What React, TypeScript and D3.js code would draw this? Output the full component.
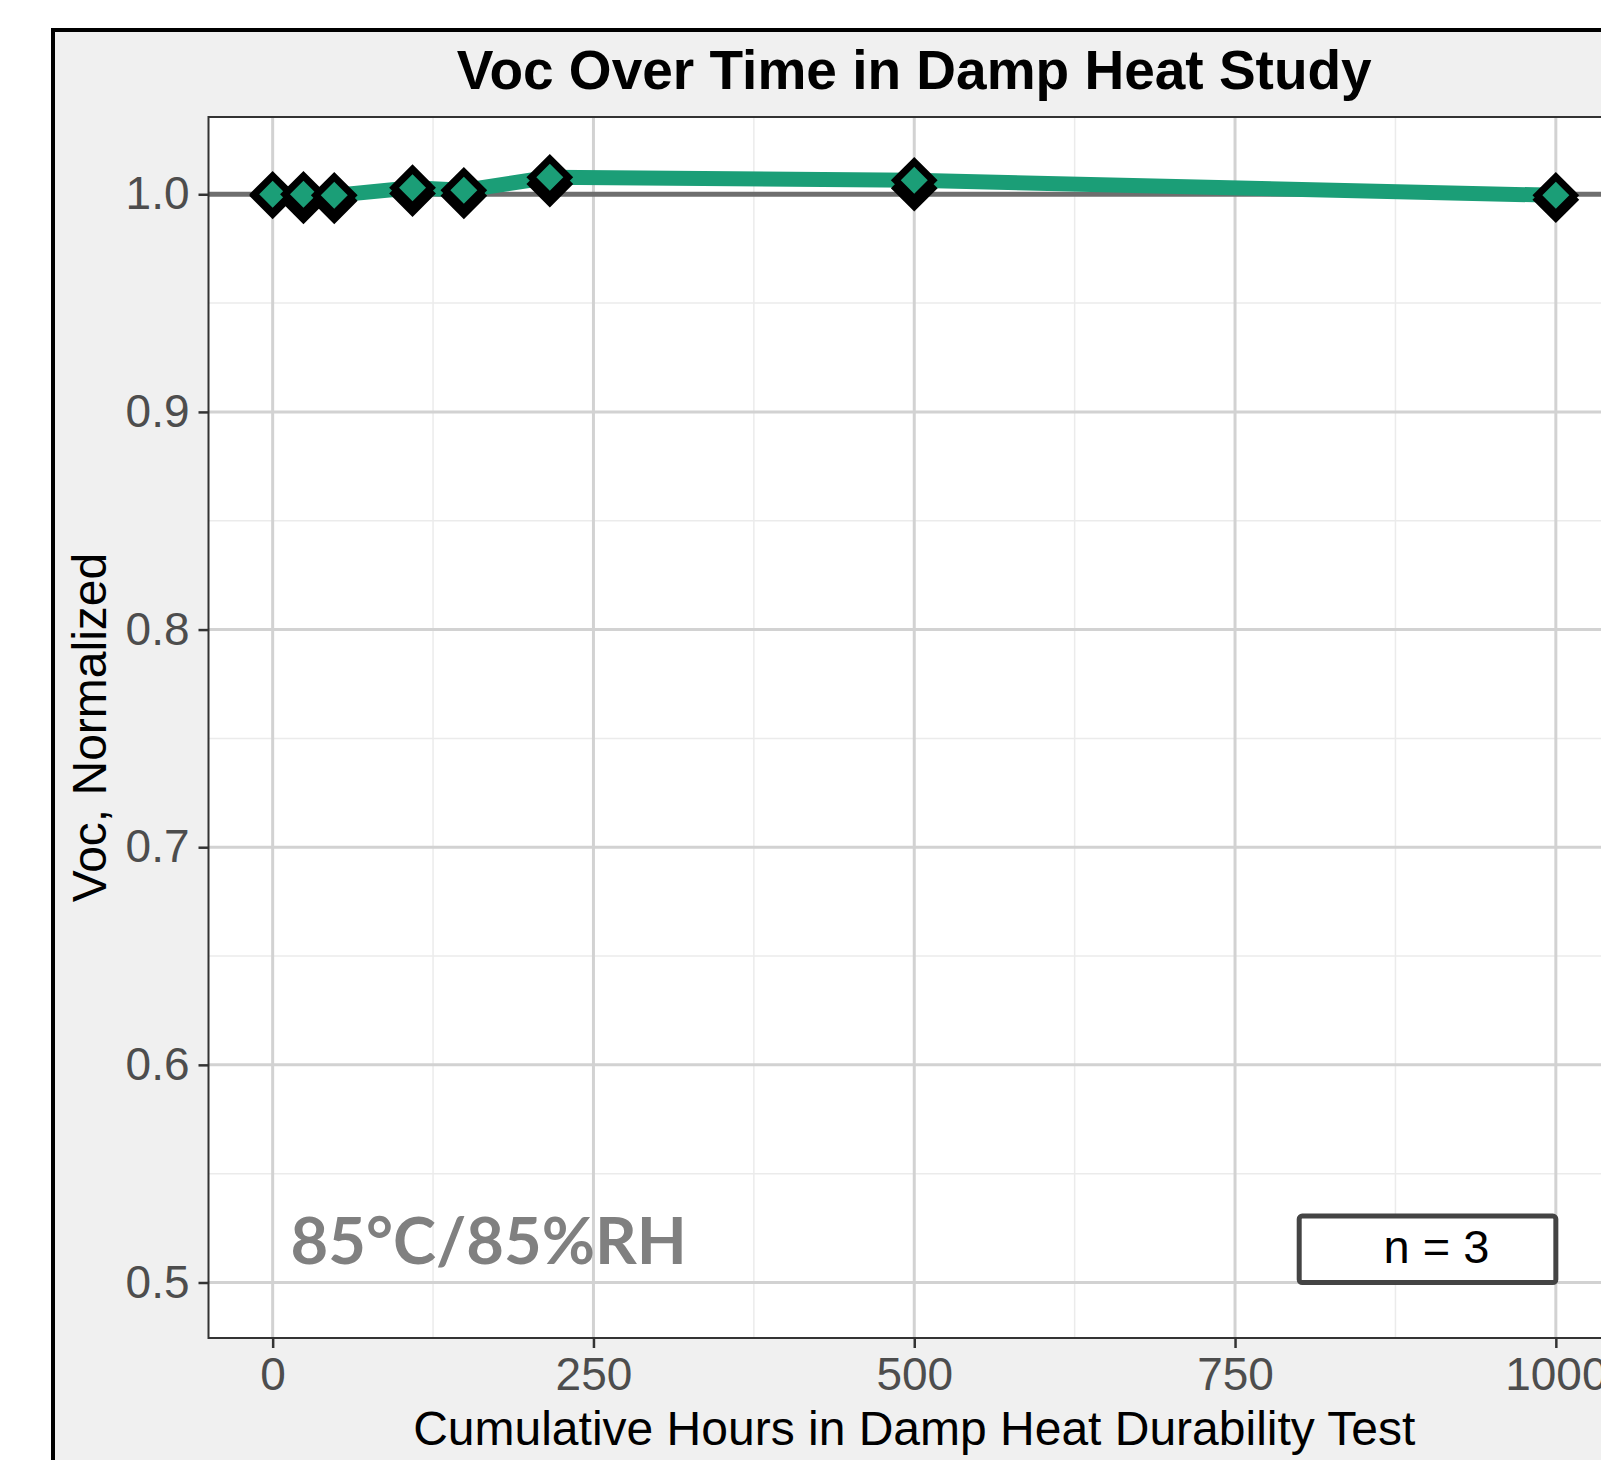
import React, { useEffect, useRef } from "react"
import * as d3 from "d3"

// cumulative damp heat hours and normalized Voc
const hours = [0, 24, 48, 109, 149, 216, 500, 1000]
const vocMean = [1.0, 1.0, 0.9995, 1.003, 1.0018, 1.0078, 1.0064, 0.9995]
const vocShadow = [0.9993, 0.997, 0.997, 1.0003, 0.9993, 1.0047, 1.0028, 0.9975]

const xTicks = [0, 250, 500, 750, 1000]
const xMinor = [125, 375, 625, 875]
const yTicks = [0.5, 0.6, 0.7, 0.8, 0.9, 1.0]
const yMinor = [0.55, 0.65, 0.75, 0.85, 0.95]

const title = "Voc Over Time in Damp Heat Study"
const xLabel = "Cumulative Hours in Damp Heat Durability Test"
const yLabel = "Voc, Normalized"
const condition = "85°C/85%RH"
const nLabel = "n = 3"
const nBox = { x0: 800, x1: 1000, y0: 0.5, y1: 0.5305 }

const App = () => {
    const ref = useRef<SVGGElement>(null)

    useEffect(() => {
        document.body.style.margin = "0"
        const g = d3.select(ref.current)
        g.selectAll("*").remove()

        const panel = { left: 208.5, right: 1620, top: 117, bottom: 1338 }
        const green = "#1b9e77"
        const font = "'Liberation Sans', Arial, sans-serif"

        const xScale = d3.scaleLinear().domain([-50, 1050]).range([panel.left, panel.right])
        const yScale = d3.scaleLinear().domain([0.4745, 1.0355]).range([panel.bottom, panel.top])

        // outer frame
        g.append("rect")
            .attr("x", 53).attr("y", 30)
            .attr("width", 1700).attr("height", 1600)
            .attr("fill", "#f0f0f0")
            .attr("stroke", "#000").attr("stroke-width", 4)

        g.append("rect")
            .attr("x", panel.left).attr("y", panel.top)
            .attr("width", panel.right - panel.left).attr("height", panel.bottom - panel.top)
            .attr("fill", "#fff")

        // grid
        const grid = g.append("g")
        grid.selectAll(".xminor").data(xMinor).enter().append("line")
            .attr("x1", d => xScale(d)).attr("x2", d => xScale(d))
            .attr("y1", panel.top).attr("y2", panel.bottom)
            .attr("stroke", "#ebebeb").attr("stroke-width", 1.5)
        grid.selectAll(".yminor").data(yMinor).enter().append("line")
            .attr("y1", d => yScale(d)).attr("y2", d => yScale(d))
            .attr("x1", panel.left).attr("x2", panel.right)
            .attr("stroke", "#ebebeb").attr("stroke-width", 1.5)
        grid.selectAll(".xmajor").data(xTicks).enter().append("line")
            .attr("x1", d => xScale(d)).attr("x2", d => xScale(d))
            .attr("y1", panel.top).attr("y2", panel.bottom)
            .attr("stroke", "#d2d2d2").attr("stroke-width", 3)
        grid.selectAll(".ymajor").data(yTicks).enter().append("line")
            .attr("y1", d => yScale(d)).attr("y2", d => yScale(d))
            .attr("x1", panel.left).attr("x2", panel.right)
            .attr("stroke", "#d2d2d2").attr("stroke-width", 3)

        // reference line at 1.0
        g.append("line")
            .attr("x1", panel.left).attr("x2", panel.right)
            .attr("y1", yScale(1)).attr("y2", yScale(1))
            .attr("stroke", "#6e6e6e").attr("stroke-width", 5)

        const idx = d3.range(hours.length)
        const line = d3.line<number>()
            .x(i => xScale(hours[i]))
            .y(i => yScale(vocMean[i]))

        g.append("path")
            .attr("d", line(idx))
            .attr("fill", "none")
            .attr("stroke", green)
            .attr("stroke-width", 15)
            .attr("stroke-linejoin", "round")

        const diamond = d3.symbol(d3.symbolSquare, 680)()

        g.selectAll(".shadow").data(idx).enter().append("path")
            .attr("d", diamond)
            .attr("transform", i => `translate(${xScale(hours[i])}, ${yScale(vocShadow[i])}) rotate(45)`)
            .attr("fill", "#000").attr("stroke", "#000").attr("stroke-width", 7)

        g.selectAll(".pt").data(idx).enter().append("path")
            .attr("d", diamond)
            .attr("transform", i => `translate(${xScale(hours[i])}, ${yScale(vocMean[i])}) rotate(45)`)
            .attr("fill", green).attr("stroke", "#000").attr("stroke-width", 7)

        // annotations
        g.append("text")
            .attr("x", xScale(14)).attr("y", yScale(0.5085))
            .attr("font-family", "Lato, 'Open Sans', sans-serif")
            .attr("font-weight", 700).attr("font-size", 65)
            .attr("fill", "#808080")
            .text(condition)

        g.append("rect")
            .attr("x", xScale(nBox.x0)).attr("y", yScale(nBox.y1))
            .attr("width", xScale(nBox.x1) - xScale(nBox.x0))
            .attr("height", yScale(nBox.y0) - yScale(nBox.y1))
            .attr("rx", 3)
            .attr("fill", "#fff").attr("stroke", "#444").attr("stroke-width", 5)

        g.append("text")
            .attr("x", xScale((nBox.x0 + nBox.x1) / 2) + 9).attr("y", 1263)
            .attr("text-anchor", "middle")
            .attr("font-family", font).attr("font-size", 47)
            .attr("fill", "#000")
            .text(nLabel)

        // panel border
        g.append("rect")
            .attr("x", panel.left).attr("y", panel.top)
            .attr("width", panel.right - panel.left).attr("height", panel.bottom - panel.top)
            .attr("fill", "none").attr("stroke", "#333").attr("stroke-width", 2)

        // axes
        const yAxisG = g.append("g")
            .attr("transform", `translate(${panel.left}, 0)`)
            .call(d3.axisLeft(yScale).tickValues(yTicks).tickFormat(d3.format(".1f")).tickSize(10).tickPadding(9))
        yAxisG.select(".domain").remove()
        yAxisG.selectAll("line").attr("stroke", "#333").attr("stroke-width", 2.5)
        yAxisG.selectAll("text")
            .attr("font-family", font).attr("font-size", 46).attr("fill", "#4d4d4d")

        const xAxisG = g.append("g")
            .attr("transform", `translate(0, ${panel.bottom})`)
            .call(d3.axisBottom(xScale).tickValues(xTicks).tickFormat(d3.format("d")).tickSize(10).tickPadding(9))
        xAxisG.select(".domain").remove()
        xAxisG.selectAll("line").attr("stroke", "#333").attr("stroke-width", 2.5)
        xAxisG.selectAll("text")
            .attr("font-family", font).attr("font-size", 46).attr("fill", "#4d4d4d")

        g.append("text")
            .attr("x", (panel.left + panel.right) / 2).attr("y", 1445)
            .attr("text-anchor", "middle")
            .attr("font-family", font).attr("font-size", 48).attr("fill", "#000")
            .text(xLabel)

        g.append("text")
            .attr("transform", `translate(106, ${(panel.top + panel.bottom) / 2}) rotate(-90)`)
            .attr("text-anchor", "middle")
            .attr("font-family", font).attr("font-size", 48).attr("fill", "#000")
            .text(yLabel)

        g.append("text")
            .attr("x", (panel.left + panel.right) / 2).attr("y", 89)
            .attr("text-anchor", "middle")
            .attr("font-family", font).attr("font-weight", 700).attr("font-size", 55).attr("fill", "#000")
            .text(title)
    }, [])

    return (
        <svg width={1601} height={1460} style={{ display: "block" }}>
            <g ref={ref} />
        </svg>
    )
}

export default App
